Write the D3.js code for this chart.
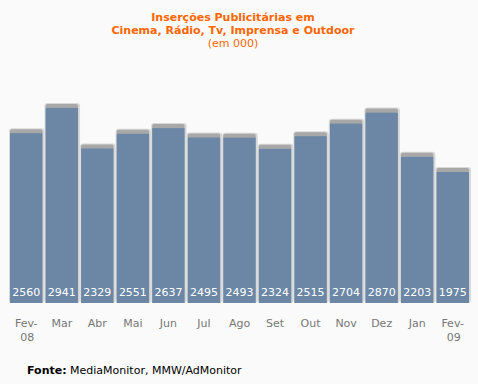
<!DOCTYPE html>
<html><head><meta charset="utf-8">
<script src="https://cdn.jsdelivr.net/npm/d3@7"></script>
<style>body{margin:0;background:#fafafa;}svg{display:block;}</style>
</head><body>
<script>
const months = ["Fev-\n08","Mar","Abr","Mai","Jun","Jul","Ago","Set","Out","Nov","Dez","Jan","Fev-\n09"];
const values = [2560,2941,2329,2551,2637,2495,2493,2324,2515,2704,2870,2203,1975];
const titleLines = ["Inserções Publicitárias em","Cinema, Rádio, Tv, Imprensa e Outdoor"];
const subtitle = "(em 000)";

const W=478,H=384;
const svg=d3.select("body").append("svg").attr("width",W).attr("height",H);
svg.append("rect").attr("width",W).attr("height",H).attr("fill","#fafafa");
const defs=svg.append("defs");
const g1=defs.append("linearGradient").attr("id","cap").attr("x1",0).attr("y1",0).attr("x2",0).attr("y2",1);
g1.append("stop").attr("offset","0").attr("stop-color","#b8b8b8");
g1.append("stop").attr("offset","0.02").attr("stop-color","#d4d4d4");
g1.append("stop").attr("offset","1").attr("stop-color","#dcdcdc");

const x=d3.scaleBand().domain(d3.range(months.length)).range([10,469]).paddingInner(0.085).paddingOuter(0);
const y=d3.scaleLinear().domain([0,3000]).range([303,104]);

const bars=svg.append("g");
values.forEach((v,i)=>{
  const bx=x(i), bw=x.bandwidth(), by=y(v);
  bars.append("rect").attr("x",bx-1).attr("y",by-5).attr("width",bw+3).attr("height",303-by+5)
    .attr("rx",3).attr("fill","#d8d8d8");
  bars.append("rect").attr("x",bx).attr("y",by-4).attr("width",bw).attr("height",5)
    .attr("rx",2).attr("fill","#a8a8a8");
  bars.append("rect").attr("x",bx).attr("y",by).attr("width",bw).attr("height",303-by).attr("fill","#6b87a5");
  bars.append("text").attr("x",bx+bw/2).attr("y",296).attr("text-anchor","middle")
    .attr("font-family","DejaVu Sans, Verdana").attr("font-size",11).attr("fill","#fff").text(v);
  const lines=months[i].split("\n");
  lines.forEach((l,j)=>{
    bars.append("text").attr("x",bx+bw/2+(j>0?1:0)).attr("y",327+j*14).attr("text-anchor","middle")
      .attr("font-family","DejaVu Sans, Verdana").attr("font-size",11).attr("fill","#777").text(l);
  });
});

titleLines.forEach((t,i)=>{
  svg.append("text").attr("x",233).attr("y",21+i*13).attr("text-anchor","middle")
    .attr("font-family","DejaVu Sans, Verdana").attr("font-weight","bold").attr("font-size",11)
    .attr("fill","#ff6600").text(t);
});
svg.append("text").attr("x",233).attr("y",47).attr("text-anchor","middle")
  .attr("font-family","DejaVu Sans, Verdana").attr("font-size",11).attr("fill","#ff6600").text(subtitle);

const src=svg.append("text").attr("x",27).attr("y",374).attr("font-family","DejaVu Sans, Verdana").attr("font-size",11).attr("fill","#000");
src.append("tspan").attr("font-weight","bold").text("Fonte:");
src.append("tspan").text(" MediaMonitor, MMW/AdMonitor");
</script>
</body></html>
